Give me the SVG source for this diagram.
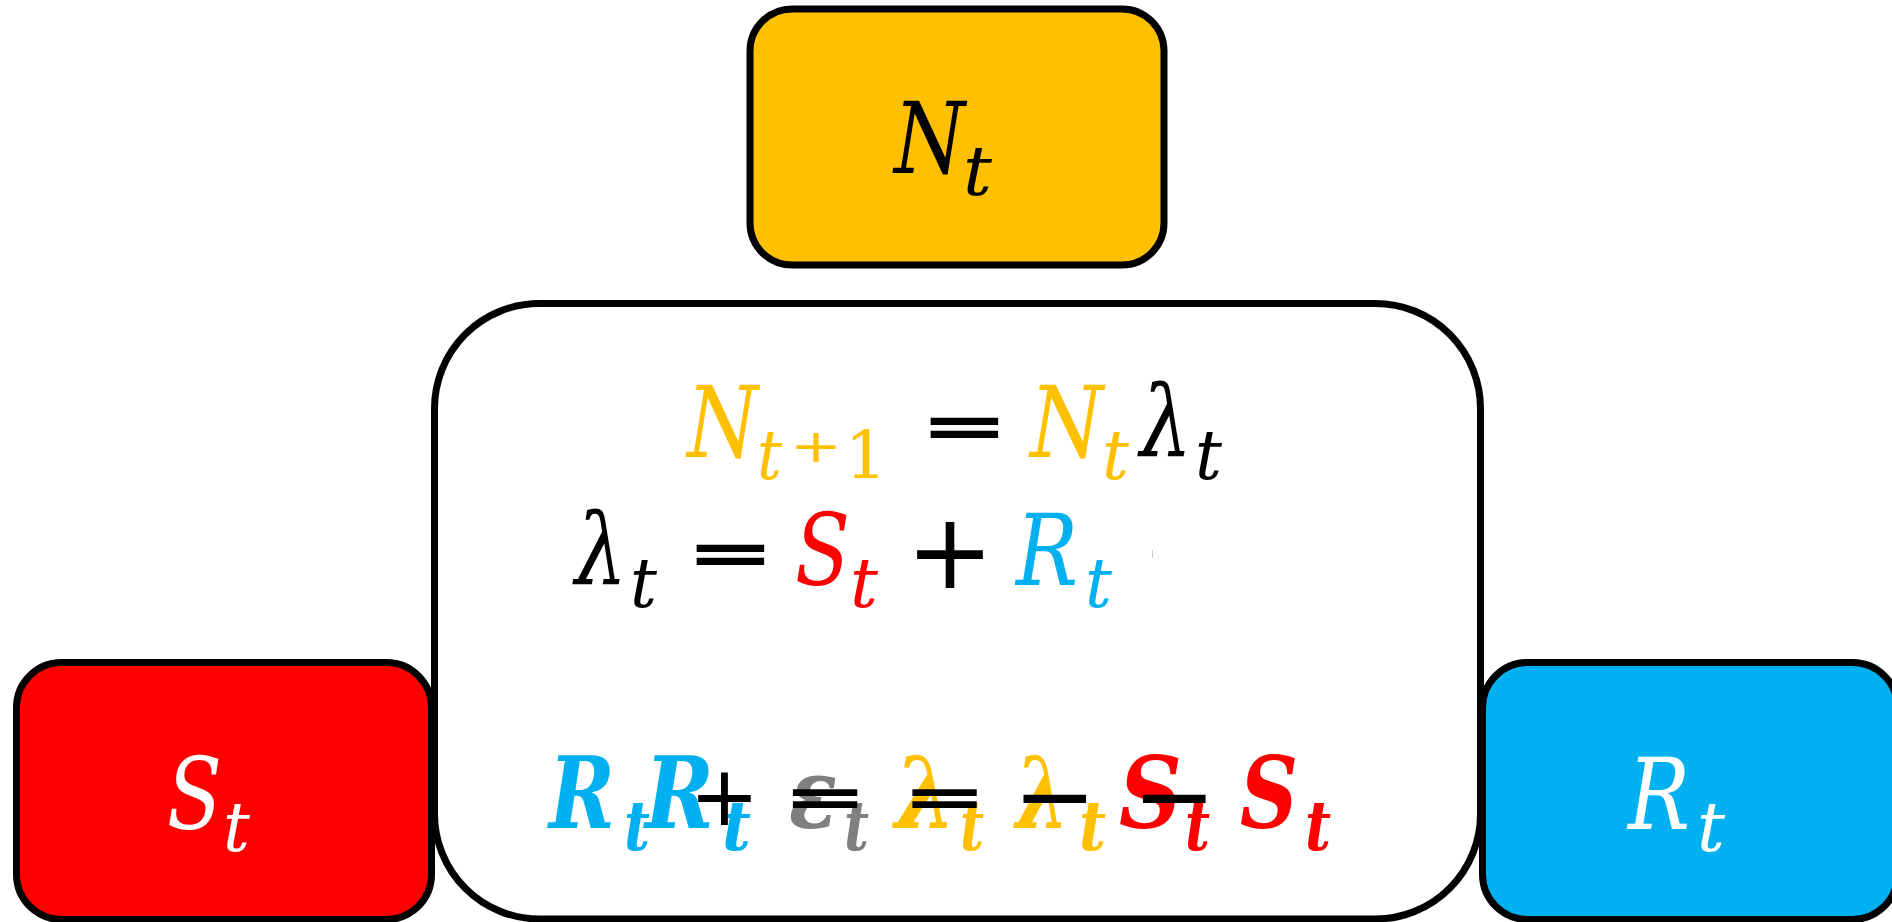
<svg xmlns="http://www.w3.org/2000/svg" width="1892" height="922" viewBox="0 0 1892 922">
<style>
.box{stroke:#000;stroke-width:7}
.mi{font-family:"DejaVu Serif",serif;font-style:italic;font-size:99px}
.sub{font-family:"DejaVu Serif",serif;font-style:italic;font-size:70px}
.up{font-family:"DejaVu Serif",serif;font-size:66px}
.op{font-family:"DejaVu Sans",sans-serif;text-anchor:middle;fill:#000}
.eq{stroke:#000;stroke-width:3}
.bi{font-weight:bold}
.gold{fill:#FFC000}.red{fill:#FF0000}.blue{fill:#00B0F0}.gray{fill:#7F7F7F}.white{fill:#fff}.blk{fill:#000}
</style>
<rect width="1892" height="922" fill="#fff"/>
<g id="connectors"/>
<g id="node-equations">
<rect class="box" x="434.5" y="303.5" width="1046" height="615.5" rx="105" fill="#fff"/>
<text class="mi gold" x="687" y="457" textLength="71" lengthAdjust="spacingAndGlyphs">N</text>
<text class="sub gold" x="757" y="479" textLength="25" lengthAdjust="spacingAndGlyphs">t</text>
<g transform="translate(816,447) scale(1,0.75)"><text class="op gold" x="0" y="20" font-size="62">+</text></g>
<text class="up gold" x="845" y="478">1</text>
<g transform="translate(964.5,426) scale(1,0.63)"><text class="op eq" x="0" y="35.5" font-size="103">=</text></g>
<text class="mi gold" x="1030" y="457" textLength="73" lengthAdjust="spacingAndGlyphs">N</text>
<text class="sub gold" x="1102" y="479" textLength="27" lengthAdjust="spacingAndGlyphs">t</text>
<text class="mi blk" x="1140" y="457" textLength="52" lengthAdjust="spacingAndGlyphs">λ</text>
<text class="sub blk" x="1195" y="479" textLength="27" lengthAdjust="spacingAndGlyphs">t</text>

<text class="mi blk" x="575" y="585" textLength="52" lengthAdjust="spacingAndGlyphs">λ</text>
<text class="sub blk" x="630" y="607" textLength="27" lengthAdjust="spacingAndGlyphs">t</text>
<g transform="translate(730.5,553) scale(1,0.63)"><text class="op eq" x="0" y="35.5" font-size="103">=</text></g>
<text class="mi red" x="795" y="585" textLength="55" lengthAdjust="spacingAndGlyphs">S</text>
<text class="sub red" x="850" y="607" textLength="28" lengthAdjust="spacingAndGlyphs">t</text>
<text class="op" x="950" y="588" font-size="105">+</text>
<text class="mi blue" x="1016" y="585" textLength="62" lengthAdjust="spacingAndGlyphs">R</text>
<text class="sub blue" x="1085" y="607" textLength="27" lengthAdjust="spacingAndGlyphs">t</text>
<line x1="1152.5" y1="550" x2="1152.5" y2="558" stroke="#c8c8c8" stroke-width="1"/>

<g class="bi">
<text class="mi blue" x="549" y="828" textLength="66" lengthAdjust="spacingAndGlyphs">R</text>
<text class="sub blue" x="624" y="850" textLength="26" lengthAdjust="spacingAndGlyphs">t</text>
<text class="mi blue" x="645" y="828" textLength="69" lengthAdjust="spacingAndGlyphs">R</text>
<text class="sub blue" x="722" y="850" textLength="29" lengthAdjust="spacingAndGlyphs">t</text>
<text class="mi gray" x="789" y="828" textLength="48" lengthAdjust="spacingAndGlyphs">ε</text>
<text class="sub gray" x="844" y="850" textLength="25" lengthAdjust="spacingAndGlyphs">t</text>
<text class="mi gold" x="895" y="828" textLength="61" lengthAdjust="spacingAndGlyphs">λ</text>
<text class="sub gold" x="960" y="850" textLength="24" lengthAdjust="spacingAndGlyphs">t</text>
<text class="mi gold" x="1016" y="828" textLength="53" lengthAdjust="spacingAndGlyphs">λ</text>
<text class="sub gold" x="1079" y="850" textLength="27" lengthAdjust="spacingAndGlyphs">t</text>
<text class="mi red" x="1119" y="828" textLength="63" lengthAdjust="spacingAndGlyphs">S</text>
<text class="sub red" x="1185" y="850" textLength="25" lengthAdjust="spacingAndGlyphs">t</text>
<text class="mi red" x="1240" y="828" textLength="58" lengthAdjust="spacingAndGlyphs">S</text>
<text class="sub red" x="1305" y="850" textLength="26" lengthAdjust="spacingAndGlyphs">t</text>
</g>
<text class="op" x="724.5" y="825" font-size="84">+</text>
<g transform="translate(825,796.5) scale(1,0.6)"><text class="op eq" x="0" y="33.8" font-size="98">=</text></g>
<g transform="translate(944.5,796.5) scale(1,0.6)"><text class="op eq" x="0" y="33.8" font-size="98">=</text></g>
<text class="op" x="1055" y="830" font-size="100">−</text>
<text class="op" x="1174.5" y="830" font-size="100">−</text>
</g>
<g id="node-Nt">
<rect class="box" x="750" y="9" width="414" height="256" rx="42" fill="#FFC000" stroke-width="8"/>
<text class="mi blk" x="894" y="173" textLength="71" lengthAdjust="spacingAndGlyphs">N</text>
<text class="sub blk" x="963" y="195" textLength="29" lengthAdjust="spacingAndGlyphs">t</text>
</g>
<g id="node-St">
<rect class="box" x="16.5" y="662.5" width="415" height="257" rx="45" fill="#FF0000"/>
<text class="mi white" x="167" y="829" textLength="55" lengthAdjust="spacingAndGlyphs">S</text>
<text class="sub white" x="223" y="851" textLength="27" lengthAdjust="spacingAndGlyphs">t</text>
</g>
<g id="node-Rt">
<rect class="box" x="1482.5" y="662.5" width="415" height="257" rx="45" fill="#00B0F0"/>
<text class="mi white" x="1628" y="829" textLength="62" lengthAdjust="spacingAndGlyphs">R</text>
<text class="sub white" x="1697" y="851" textLength="28" lengthAdjust="spacingAndGlyphs">t</text>
</g>
</svg>
